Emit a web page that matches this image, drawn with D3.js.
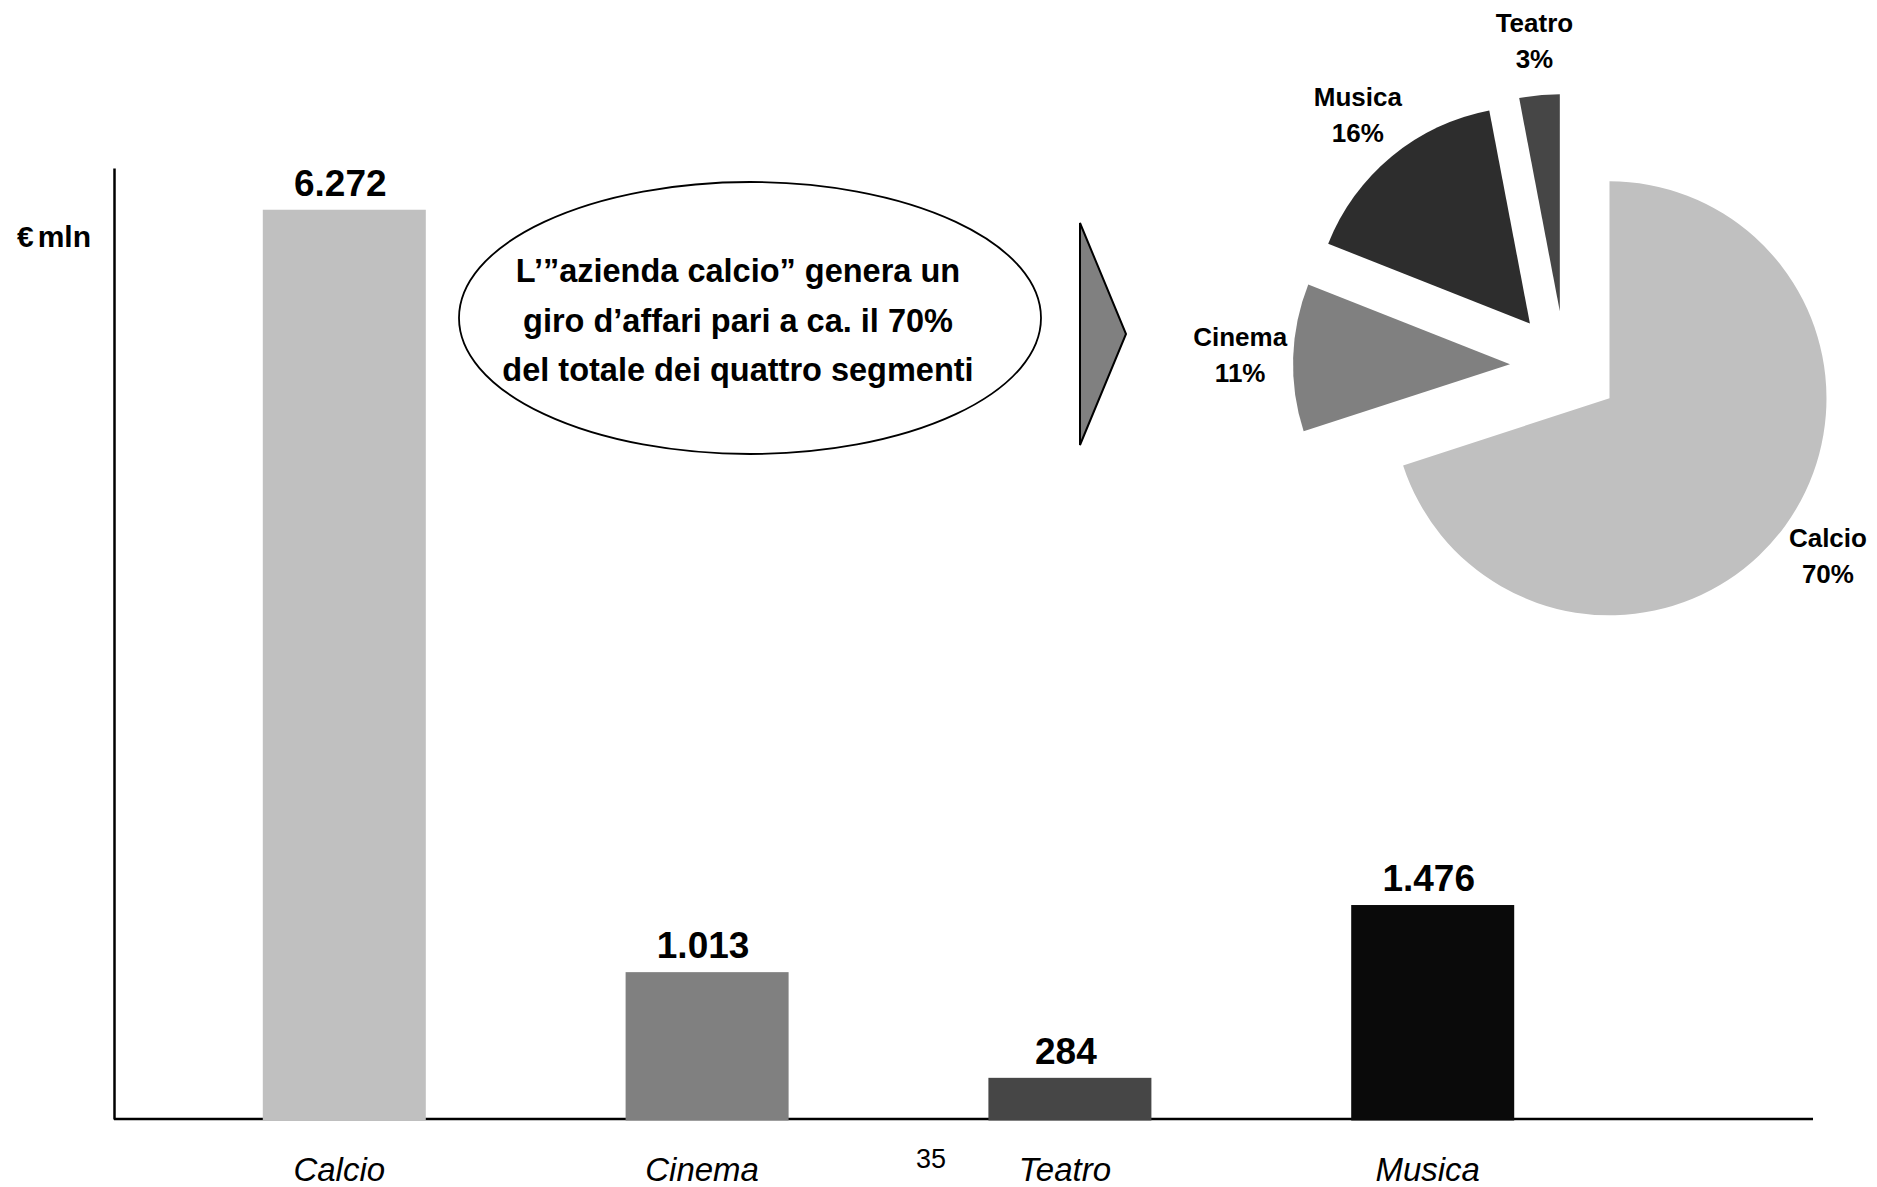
<!DOCTYPE html>
<html lang="it">
<head>
<meta charset="utf-8">
<script src="https://cdn.jsdelivr.net/npm/d3@7"></script>
<style>
  html, body { margin: 0; padding: 0; background: #fff; }
  svg { display: block; font-family: "Liberation Sans", Arial, sans-serif; }
</style>
</head>
<body>
<svg id="chart" width="1877" height="1187"></svg>
<script>
// Giro d'affari per segmento (€ mln)
const categories = ["Calcio", "Cinema", "Teatro", "Musica"];
const revenues = [6272, 1013, 284, 1476];
const barColors = ["#c0c0c0", "#808080", "#464646", "#0a0a0a"];

// Quota sul totale dei quattro segmenti (%)
const pieCategories = ["Calcio", "Cinema", "Musica", "Teatro"];
const pieShares = [70, 11, 16, 3];
const pieColors = ["#c0c0c0", "#808080", "#2d2d2d", "#464646"];

const unitSymbol = "€";
const unitLabel = "mln";
const calloutLines = [
  "L’”azienda calcio” genera un",
  "giro d’affari pari a ca. il 70%",
  "del totale dei quattro segmenti"
];
const pageNumber = "35";

const svg = d3.select("#chart");
const fmt = d3.formatLocale({ decimal: ",", thousands: ".", grouping: [3], currency: ["€", ""] }).format(",");

// ---- bar chart ----
const axisX0 = 114, axisX1 = 1813, baseY = 1119, topY = 168;
const yMax = 6560;

const x = d3.scaleBand().domain(categories).range([63, 1714]).padding(0.5507);
const y = d3.scaleLinear().domain([0, yMax]).range([baseY, topY]);

// vertical axis (line only)
const yAxis = svg.append("g")
  .attr("transform", `translate(${axisX0},0)`)
  .call(d3.axisLeft(y).tickValues([]).tickSizeOuter(0));
yAxis.select(".domain").attr("stroke", "#000").attr("stroke-width", 2.5);

// horizontal baseline
svg.append("line")
  .attr("x1", axisX0).attr("x2", axisX1)
  .attr("y1", baseY).attr("y2", baseY)
  .attr("stroke", "#000").attr("stroke-width", 2.5);

const bars = categories.map((c, i) => ({ cat: c, value: revenues[i], color: barColors[i] }));

svg.append("g").selectAll("rect")
  .data(bars).join("rect")
  .attr("x", d => x(d.cat))
  .attr("width", x.bandwidth())
  .attr("y", d => y(d.value))
  .attr("height", d => y(0) - y(d.value) + 1.5)
  .attr("fill", d => d.color);

svg.append("g").selectAll("text")
  .data(bars).join("text")
  .attr("x", d => x(d.cat) + x.bandwidth() / 2 - 4)
  .attr("y", d => y(d.value) - 14)
  .attr("text-anchor", "middle")
  .attr("font-size", 37).attr("font-weight", "bold")
  .text(d => fmt(d.value));

svg.append("g").selectAll("text")
  .data(bars).join("text")
  .attr("x", d => x(d.cat) + x.bandwidth() / 2 - 5)
  .attr("y", 1181)
  .attr("text-anchor", "middle")
  .attr("font-size", 33).attr("font-style", "italic")
  .text(d => d.cat);

const unit = svg.append("text")
  .attr("x", 17).attr("y", 247)
  .attr("font-size", 30).attr("font-weight", "bold");
unit.append("tspan").text(unitSymbol);
unit.append("tspan").attr("dx", 4).text(unitLabel);

svg.append("text")
  .attr("x", 931).attr("y", 1168)
  .attr("text-anchor", "middle")
  .attr("font-size", 27)
  .text(pageNumber);

// ---- callout ----
svg.append("ellipse")
  .attr("cx", 750).attr("cy", 318).attr("rx", 291).attr("ry", 136)
  .attr("fill", "#fff").attr("stroke", "#000").attr("stroke-width", 1.8);

svg.append("g").selectAll("text")
  .data(calloutLines).join("text")
  .attr("x", 738)
  .attr("y", (d, i) => 282 + i * 49.5)
  .attr("text-anchor", "middle")
  .attr("font-size", 32.5).attr("font-weight", "bold")
  .text(d => d);

svg.append("polygon")
  .attr("points", "1080,223 1126,334 1080,445")
  .attr("fill", "#808080").attr("stroke", "#000").attr("stroke-width", 2)
  .attr("stroke-linejoin", "miter");

// ---- exploded pie ----
const pieCx = 1565, pieCy = 366, radius = 217, explode = 55, labelR = 270;
const slices = d3.pie().sort(null).value(d => d.share)(
  pieCategories.map((c, i) => ({ cat: c, share: pieShares[i], color: pieColors[i] }))
);
const arc = d3.arc().innerRadius(0).outerRadius(radius);

const pieG = svg.append("g").attr("transform", `translate(${pieCx},${pieCy})`);

slices.forEach(s => {
  const mid = (s.startAngle + s.endAngle) / 2;
  const dx = Math.sin(mid), dy = -Math.cos(mid);
  const g = pieG.append("g").attr("transform", `translate(${explode * dx},${explode * dy})`);
  g.append("path").attr("d", arc(s)).attr("fill", s.data.color);
  // label block centred on the slice bisector, outside the rim
  const lx = labelR * dx, ly = labelR * dy;
  const t = g.append("text")
    .attr("text-anchor", "middle")
    .attr("font-size", 26).attr("font-weight", "bold");
  t.append("tspan").attr("x", lx).attr("y", ly - 10).text(s.data.cat);
  t.append("tspan").attr("x", lx).attr("y", ly + 26).text(s.data.share + "%");
});
</script>
</body>
</html>
